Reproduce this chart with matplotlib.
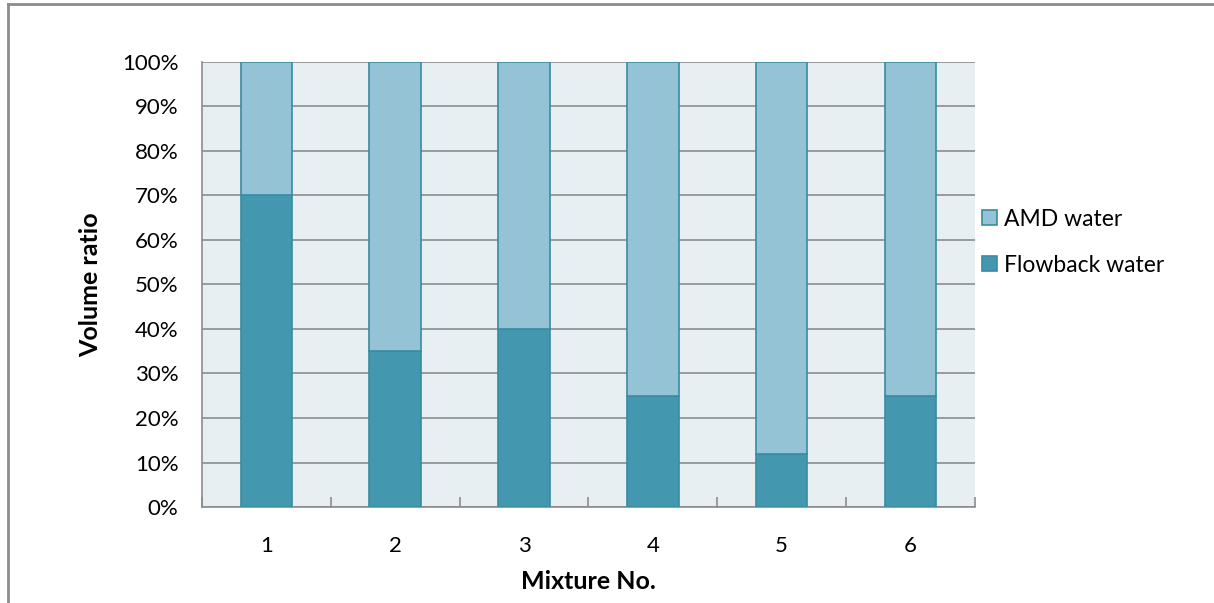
import numpy as np
import matplotlib.pyplot as plt
from matplotlib.lines import Line2D
from matplotlib.ticker import PercentFormatter, FixedLocator

plt.rcParams['font.family'] = ['Lato', 'DejaVu Sans']

# Data
mixtures = ["1", "2", "3", "4", "5", "6"]
flowback = [70, 35, 40, 25, 12, 25]
amd = [30, 65, 60, 75, 88, 75]

amd_color = "#93c3d5"
flow_color = "#4398b0"
edge_color = "#3a8ba2"

fig = plt.figure(figsize=(12.14, 6.03), dpi=100)
ax = fig.add_axes([0.1664, 0.1592, 0.6367, 0.738])
ax.set_facecolor("#e8eff3")

x = np.arange(len(mixtures))
ax.bar(x, flowback, width=0.4, color=flow_color, edgecolor=edge_color,
       linewidth=1.2, label="Flowback water", zorder=3)
ax.bar(x, amd, width=0.4, bottom=flowback, color=amd_color, edgecolor=edge_color,
       linewidth=1.2, label="AMD water", zorder=3)

ax.set_xlim(-0.5, len(mixtures) - 0.5)
ax.set_ylim(0, 100)
ax.set_yticks(np.arange(0, 101, 10))
ax.yaxis.set_major_formatter(PercentFormatter(decimals=0))
ax.grid(axis="y", color="#8c8c8c", linewidth=1.2, zorder=1)

ax.set_xticks(x)
ax.set_xticklabels(mixtures)
ax.xaxis.set_minor_locator(FixedLocator(np.arange(-0.5, len(mixtures), 1.0)))
ax.tick_params(axis="x", which="major", length=0, pad=21, labelsize=16)
ax.tick_params(axis="x", which="minor", length=7, direction="in", color="#8c8c8c", width=1.2)
ax.tick_params(axis="y", length=0, pad=17, labelsize=16)

for side in ["top", "right"]:
    ax.spines[side].set_visible(False)
for side in ["left", "bottom"]:
    ax.spines[side].set_color("#8c8c8c")
    ax.spines[side].set_linewidth(1.2)

ax.set_xlabel("Mixture No.", fontsize=18, fontweight="bold", labelpad=10)
ax.set_ylabel("Volume ratio", fontsize=18, fontweight="bold", labelpad=14)

handles, labels = ax.get_legend_handles_labels()
leg = ax.legend(handles[::-1], labels[::-1], loc="center left",
                bbox_to_anchor=(1.0, 0.595), frameon=False, fontsize=16.5,
                handlelength=0.65, handleheight=0.65, handletextpad=0.3,
                labelspacing=1.1, borderaxespad=0.0, borderpad=0.3)

# Outer chart border (left and top)
fig.add_artist(Line2D([0.0062, 0.0062], [0, 0.9934], transform=fig.transFigure,
                      color="#8c8c8c", linewidth=2))
fig.add_artist(Line2D([0.0062, 1.0], [0.9934, 0.9934], transform=fig.transFigure,
                      color="#8c8c8c", linewidth=2))

fig.savefig("out.png", dpi=100)
